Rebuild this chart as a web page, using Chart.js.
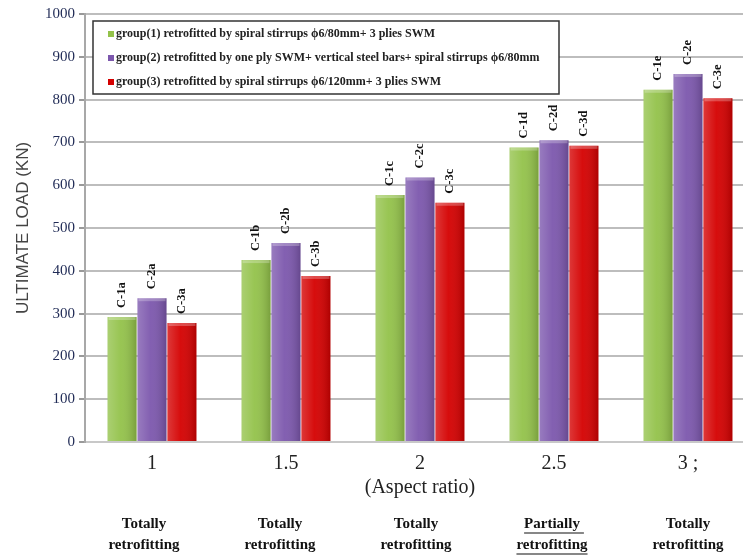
<!DOCTYPE html>
<html>
<head>
<meta charset="utf-8">
<script src="https://cdn.jsdelivr.net/npm/chart.js@4.4.1/dist/chart.umd.min.js"></script>
<style>
  html, body { margin: 0; padding: 0; background: #fff; overflow: hidden; }
  #wrap { width: 760px; height: 556px; }
</style>
</head>
<body>
<div id="wrap"><canvas id="grafica" width="760" height="556"></canvas></div>
<script>
// datos
const ratios = ['1', '1.5', '2', '2.5', '3 ;'];
const group1 = [292, 425, 577, 688, 823];
const group2 = [336, 465, 618, 705, 860];
const group3 = [278, 388, 559, 692, 803];
const tags1 = ['C-1a', 'C-1b', 'C-1c', 'C-1d', 'C-1e'];
const tags2 = ['C-2a', 'C-2b', 'C-2c', 'C-2d', 'C-2e'];
const tags3 = ['C-3a', 'C-3b', 'C-3c', 'C-3d', 'C-3e'];
const seriesNames = [
  'group(1) retrofitted by spiral stirrups \u03d56/80mm+ 3 plies SWM',
  'group(2) retrofitted by one ply SWM+ vertical steel bars+ spiral stirrups \u03d56/80mm',
  'group(3) retrofitted by spiral stirrups \u03d56/120mm+ 3 plies SWM'
];
const notesTop = ['Totally', 'Totally', 'Totally', 'Partially', 'Totally'];
const notesBottom = ['retrofitting', 'retrofitting', 'retrofitting', 'retrofitting', 'retrofitting'];
const underlined = [false, false, false, true, false];

const colors = ['#93c24a', '#7c57ad', '#d40000'];
const SERIF = "'Liberation Serif', 'DejaVu Serif', serif";

// sombreado tipo 3D sobre cada barra
const shade = {
  id: 'shade',
  afterDatasetsDraw(chart) {
    const ctx = chart.ctx;
    chart.data.datasets.forEach((ds, i) => {
      chart.getDatasetMeta(i).data.forEach(bar => {
        const l = bar.x - bar.width / 2, w = bar.width, t = bar.y, h = bar.base - bar.y;
        const g = ctx.createLinearGradient(l, 0, l + w, 0);
        g.addColorStop(0, 'rgba(255,255,255,0.22)');
        g.addColorStop(0.45, 'rgba(255,255,255,0.05)');
        g.addColorStop(1, 'rgba(0,0,0,0.18)');
        ctx.save();
        ctx.fillStyle = g;
        ctx.fillRect(l, t, w, h);
        ctx.fillStyle = 'rgba(255,255,255,0.25)';
        ctx.fillRect(l + 1, t, w - 2, 3);
        ctx.restore();
      });
    });
  }
};

// etiquetas verticales encima de las barras
const tagLabels = {
  id: 'tagLabels',
  afterDatasetsDraw(chart) {
    const ctx = chart.ctx;
    const tags = [tags1, tags2, tags3];
    ctx.save();
    ctx.font = 'bold 12.5px ' + SERIF;
    ctx.fillStyle = '#111';
    ctx.textBaseline = 'middle';
    ctx.textAlign = 'left';
    chart.data.datasets.forEach((ds, i) => {
      chart.getDatasetMeta(i).data.forEach((bar, j) => {
        ctx.save();
        ctx.translate(bar.x, bar.y - 9);
        ctx.rotate(-Math.PI / 2);
        ctx.fillText(tags[i][j], 0, 0);
        ctx.restore();
      });
    });
    ctx.restore();
  }
};

// leyenda con recuadro dentro del área
const legendBox = {
  id: 'legendBox',
  afterDraw(chart) {
    const ctx = chart.ctx;
    const a = chart.chartArea;
    const x = a.left + 8, y = a.top + 7, w = 466, h = 73;
    ctx.save();
    ctx.fillStyle = '#fff';
    ctx.fillRect(x, y, w, h);
    ctx.strokeStyle = '#333';
    ctx.lineWidth = 1.5;
    ctx.strokeRect(x, y, w, h);
    ctx.font = 'bold 12px ' + SERIF;
    ctx.textBaseline = 'middle';
    chart.data.datasets.forEach((ds, i) => {
      const ty = y + 13 + i * 24;
      ctx.fillStyle = ds.backgroundColor;
      ctx.fillRect(x + 15, ty - 3, 6, 6);
      ctx.fillStyle = '#222';
      ctx.fillText(ds.label, x + 23, ty);
    });
    ctx.restore();
  }
};

// textos bajo el eje x
const notes = {
  id: 'notes',
  afterDraw(chart) {
    const ctx = chart.ctx;
    const xs = chart.scales.x;
    ctx.save();
    ctx.font = 'bold 15px ' + SERIF;
    ctx.fillStyle = '#111';
    ctx.textAlign = 'center';
    ctx.textBaseline = 'middle';
    ratios.forEach((r, i) => {
      const cx = xs.getPixelForValue(i) - 8 + i * 2;
      ctx.fillText(notesTop[i], cx, 524);
      ctx.fillText(notesBottom[i], cx, 545);
      if (underlined[i]) {
        ctx.strokeStyle = '#111';
        ctx.lineWidth = 1.2;
        const w1 = ctx.measureText(notesTop[i]).width, w2 = ctx.measureText(notesBottom[i]).width;
        ctx.beginPath();
        ctx.moveTo(cx - w1 / 2, 533); ctx.lineTo(cx + w1 / 2 + 4, 533);
        ctx.moveTo(cx - w2 / 2, 554); ctx.lineTo(cx + w2 / 2, 554);
        ctx.stroke();
      }
    });
    ctx.restore();
  }
};

function makeDataset(label, values, color) {
  return {
    label,
    data: values,
    backgroundColor: color,
    borderWidth: 0,
    categoryPercentage: 0.67,
    barPercentage: 0.97
  };
}

new Chart(document.getElementById('grafica').getContext('2d'), {
  type: 'bar',
  data: {
    labels: ratios,
    datasets: [
      makeDataset(seriesNames[0], group1, colors[0]),
      makeDataset(seriesNames[1], group2, colors[1]),
      makeDataset(seriesNames[2], group3, colors[2])
    ]
  },
  options: {
    responsive: false,
    animation: false,
    layout: { padding: { top: 14, right: 5, bottom: 56, left: 0 } },
    plugins: {
      legend: { display: false },
      tooltip: { enabled: false }
    },
    scales: {
      x: {
        grid: { display: false, drawTicks: false },
        border: { color: '#c8c8c8', width: 2 },
        ticks: { color: '#222', padding: 10, font: { family: SERIF, size: 20 } },
        title: {
          display: true,
          text: '(Aspect ratio)',
          color: '#222',
          padding: { top: 0, bottom: 0 },
          font: { family: SERIF, size: 20 }
        },
        afterFit(scale) { scale.height = 58; }
      },
      y: {
        min: 0,
        max: 1000,
        ticks: {
          stepSize: 100,
          color: '#1f2a55',
          padding: 4,
          font: { family: SERIF, size: 15 },
          callback: v => String(v)
        },
        grid: { color: '#bdbdbd', lineWidth: 2, tickLength: 6, tickColor: '#999' },
        border: { color: '#a8a8a8', width: 2 },
        title: {
          display: true,
          text: 'ULTIMATE LOAD (KN)',
          color: '#444',
          padding: { top: 13, bottom: 0 },
          font: { family: "'Liberation Sans', Arial, sans-serif", size: 17 }
        },
        afterFit(scale) { scale.width = 85; }
      }
    }
  },
  plugins: [shade, tagLabels, legendBox, notes]
});
</script>
</body>
</html>
